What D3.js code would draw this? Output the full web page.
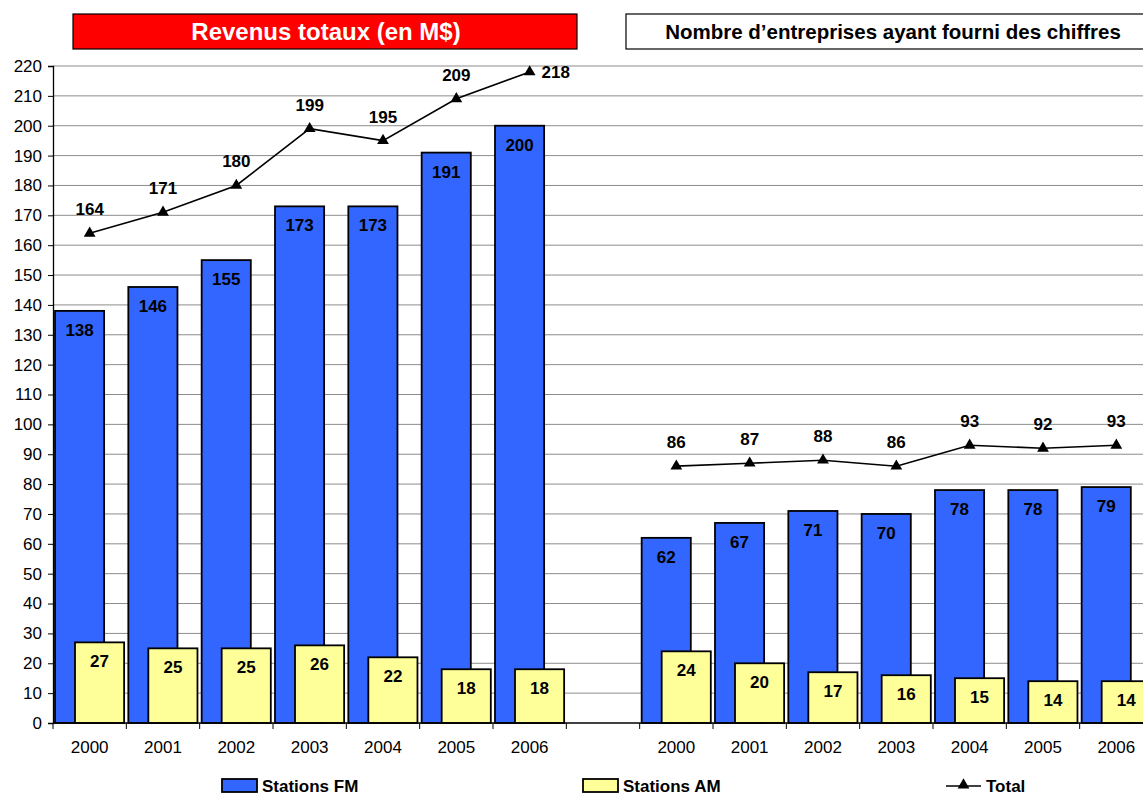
<!DOCTYPE html>
<html>
<head>
<meta charset="utf-8">
<script src="https://cdn.jsdelivr.net/npm/d3@7"></script>
<style>
  body { margin: 0; background: #fff; }
  svg { display: block; font-family: 'Liberation Sans', Arial, sans-serif; }
</style>
</head>
<body>
<svg id="chart" width="1143" height="796"></svg>
<script>
const years = ['2000', '2001', '2002', '2003', '2004', '2005', '2006']
// revenus totaux (en M$)
const revenueFM = [138, 146, 155, 173, 173, 191, 200]
const revenueAM = [27, 25, 25, 26, 22, 18, 18]
const revenueTotal = [164, 171, 180, 199, 195, 209, 218]
// nombre d'entreprises
const countFM = [62, 67, 71, 70, 78, 78, 79]
const countAM = [24, 20, 17, 16, 15, 14, 14]
const countTotal = [86, 87, 88, 86, 93, 92, 93]
const yTicks = d3.range(0, 221, 10)
const titles = ['Revenus totaux (en M$)', 'Nombre d\u2019entreprises ayant fourni des chiffres']
const legendItems = ['Stations FM', 'Stations AM', 'Total']

const blue = '#3366FF'
const yellow = '#FFFF99'

let rows = []
years.forEach((yr, i) => rows.push({ key: 'R' + yr, year: yr, fm: revenueFM[i], am: revenueAM[i], total: revenueTotal[i], group: 0 }))
years.forEach((yr, i) => rows.push({ key: 'N' + yr, year: yr, fm: countFM[i], am: countAM[i], total: countTotal[i], group: 1 }))
let keys = rows.slice(0, 7).map(d => d.key).concat(['gap'], rows.slice(7).map(d => d.key))

let svg = d3.select('#chart')
let mLeft = 53, mRight = 1153, mTop = 66, mBottom = 723

let x = d3.scaleBand().domain(keys).range([mLeft, mRight]).paddingInner(0).paddingOuter(0)
let y = d3.scaleLinear().domain([0, 220]).range([mBottom, mTop])
let bw = x.bandwidth()
let barW = bw * 0.67

// gridlines
svg.append('g')
  .selectAll('line')
  .data(yTicks.filter(t => t > 0))
  .enter().append('line')
  .attr('x1', mLeft).attr('x2', mRight)
  .attr('y1', d => y(d)).attr('y2', d => y(d))
  .attr('stroke', '#8c8c8c').attr('stroke-width', 1)

// y axis
let yAxis = svg.append('g')
  .attr('transform', `translate(${mLeft},0)`)
  .call(d3.axisLeft(y).tickValues(yTicks).tickSize(5).tickPadding(6))
yAxis.select('.domain').attr('stroke', '#000').attr('stroke-width', 1.3)
yAxis.selectAll('.tick line').attr('stroke', '#000')
yAxis.selectAll('text').attr('font-size', 17).attr('fill', '#000')
  .attr('font-family', "'Liberation Sans', Arial, sans-serif")

// bars
let bars = svg.append('g')
let data = rows
bars.selectAll('rect.fm')
  .data(data)
  .enter().append('rect')
  .attr('class', 'fm')
  .attr('x', d => x(d.key) + 2)
  .attr('y', d => y(d.fm))
  .attr('width', barW)
  .attr('height', d => y(0) - y(d.fm))
  .attr('fill', blue)
  .attr('stroke', '#000').attr('stroke-width', 1.8)

bars.selectAll('text.fm')
  .data(data)
  .enter().append('text')
  .attr('class', 'fm')
  .attr('x', d => x(d.key) + 2 + barW / 2)
  .attr('y', d => y(d.fm) + 25)
  .attr('text-anchor', 'middle')
  .attr('font-size', 17).attr('font-weight', 'bold')
  .text(d => d.fm)

bars.selectAll('rect.am')
  .data(data)
  .enter().append('rect')
  .attr('class', 'am')
  .attr('x', d => x(d.key) + 22)
  .attr('y', d => y(d.am))
  .attr('width', barW)
  .attr('height', d => y(0) - y(d.am))
  .attr('fill', yellow)
  .attr('stroke', '#000').attr('stroke-width', 1.8)

bars.selectAll('text.am')
  .data(data)
  .enter().append('text')
  .attr('class', 'am')
  .attr('x', d => x(d.key) + 22 + barW / 2)
  .attr('y', d => y(d.am) + 25)
  .attr('text-anchor', 'middle')
  .attr('font-size', 17).attr('font-weight', 'bold')
  .text(d => d.am)

// total lines
let line = d3.line()
  .x(d => x(d.key) + bw / 2)
  .y(d => y(d.total))
let tri = d3.symbol().type(d3.symbolTriangle).size(60)
;[0, 1].forEach(g => {
  let pts = data.filter(d => d.group === g)
  svg.append('path')
    .datum(pts)
    .attr('d', line)
    .attr('fill', 'none')
    .attr('stroke', '#000').attr('stroke-width', 1.6)
  svg.append('g').selectAll('path')
    .data(pts)
    .enter().append('path')
    .attr('d', tri)
    .attr('transform', d => `translate(${x(d.key) + bw / 2},${y(d.total)})`)
    .attr('fill', '#000')
  svg.append('g').selectAll('text')
    .data(pts)
    .enter().append('text')
    .attr('x', d => y(d.total) - 24 < mTop - 5 ? x(d.key) + bw / 2 + 26 : x(d.key) + bw / 2)
    .attr('y', d => y(d.total) - 24 < mTop - 5 ? y(d.total) + 6 : y(d.total) - 18)
    .attr('text-anchor', 'middle')
    .attr('font-size', 17).attr('font-weight', 'bold')
    .text(d => d.total)
})

// x axis
let xAxis = svg.append('g')
  .attr('transform', `translate(0,${mBottom})`)
xAxis.append('line')
  .attr('x1', mLeft).attr('x2', mRight)
  .attr('stroke', '#000').attr('stroke-width', 1.5)
xAxis.selectAll('line.tick')
  .data(keys.concat(['end']))
  .enter().append('line')
  .attr('class', 'tick')
  .attr('x1', d => d === 'end' ? mRight : x(d))
  .attr('x2', d => d === 'end' ? mRight : x(d))
  .attr('y1', 0).attr('y2', 6)
  .attr('stroke', '#000')
xAxis.selectAll('text')
  .data(data)
  .enter().append('text')
  .attr('x', d => x(d.key) + bw / 2)
  .attr('y', 30)
  .attr('text-anchor', 'middle')
  .attr('font-size', 17)
  .text(d => d.year)

// titles
let titleBoxes = [
  { x: 73, w: 504, fill: '#FF0000', color: '#fff', size: 24 },
  { x: 626, w: 520, fill: '#fff', color: '#000', size: 20.5 }
]
titleBoxes.forEach((b, i) => {
  svg.append('rect')
    .attr('x', b.x).attr('y', 14)
    .attr('width', b.w).attr('height', 35)
    .attr('fill', b.fill)
    .attr('stroke', '#000').attr('stroke-width', 1.2)
  svg.append('text')
    .attr('x', i === 0 ? 326 : 893)
    .attr('y', i === 0 ? 40 : 39)
    .attr('text-anchor', 'middle')
    .attr('font-size', b.size).attr('font-weight', 'bold')
    .attr('fill', b.color)
    .text(titles[i])
})

// legend
let legendX = [222, 583, 946]
let legend = svg.append('g')
legendItems.forEach((name, i) => {
  let lx = legendX[i]
  if (i < 2) {
    legend.append('rect')
      .attr('x', lx).attr('y', 779)
      .attr('width', 35).attr('height', 13)
      .attr('fill', i === 0 ? blue : yellow)
      .attr('stroke', '#000').attr('stroke-width', 1.8)
  } else {
    legend.append('line')
      .attr('x1', lx).attr('x2', lx + 35)
      .attr('y1', 786).attr('y2', 786)
      .attr('stroke', '#000').attr('stroke-width', 1.6)
    legend.append('path')
      .attr('d', tri)
      .attr('transform', `translate(${lx + 17.5},785)`)
      .attr('fill', '#000')
  }
  legend.append('text')
    .attr('x', lx + 40)
    .attr('y', 792)
    .attr('font-size', 17).attr('font-weight', 'bold')
    .text(name)
})
</script>
</body>
</html>
